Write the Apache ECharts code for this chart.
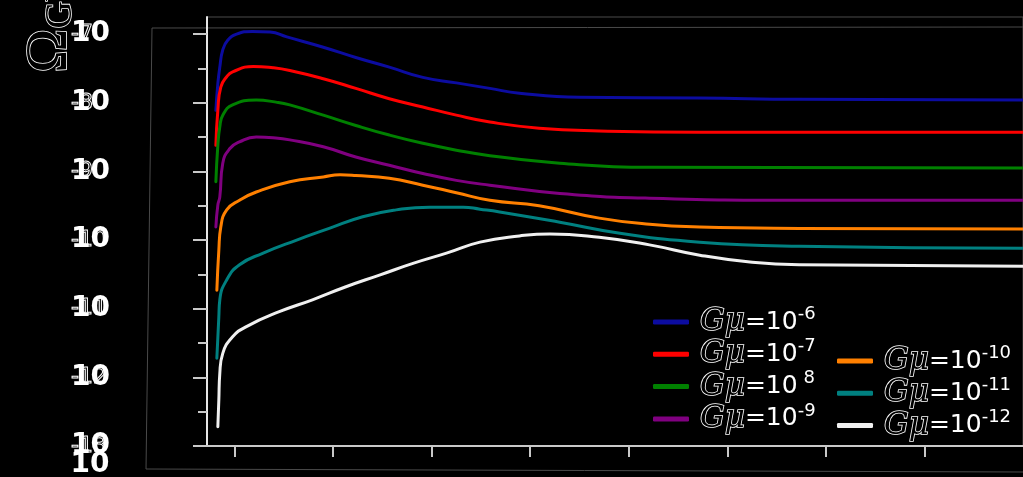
<!DOCTYPE html>
<html>
<head>
<meta charset="utf-8">
<style>
  html, body { margin: 0; padding: 0; background: #000; }
  #chart { width: 1023px; height: 477px; }
</style>
<script src="https://cdn.jsdelivr.net/npm/echarts@6/dist/echarts.min.js"></script>
</head>
<body>
<div id="chart"></div>
<script>
// Gravitational-wave background from cosmic string loops.
// x: log10(f / Hz), y: log10(Omega_GW h^2)

const freqTicks = [-8, -7, -6, -5, -4, -3, -2, -1];
const omegaDecades = [-13, -12, -11, -10, -9, -8, -7];
const omegaHalfDecades = [-12.5, -11.5, -10.5, -9.5, -8.5, -7.5];

const seriesNames = [
  'Gμ=10^-6', 'Gμ=10^-7', 'Gμ=10^ 8', 'Gμ=10^-9',
  'Gμ=10^-10', 'Gμ=10^-11', 'Gμ=10^-12'
];
const seriesColors = ['#0c0ca0', '#ff0000', '#008000', '#800080', '#ff8000', '#008080', '#f0f0f0'];

const gmu6 = [
  [-8.19, -8.11], [-8.17, -7.72], [-8.15, -7.48], [-8.12, -7.23], [-8.07, -7.09],
  [-7.98, -7.00], [-7.82, -6.96], [-7.64, -6.97], [-7.47, -7.04], [-7.10, -7.19],
  [-6.77, -7.34], [-6.43, -7.48], [-6.09, -7.63], [-5.75, -7.71], [-5.41, -7.79],
  [-5.11, -7.86], [-4.50, -7.92], [-3.28, -7.93], [-2.27, -7.95], [0, -7.96]
];
const gmu7 = [
  [-8.19, -8.62], [-8.17, -8.11], [-8.14, -7.77], [-8.08, -7.62], [-8.02, -7.55],
  [-7.81, -7.47], [-7.61, -7.49], [-7.44, -7.53], [-7.10, -7.65], [-6.77, -7.79],
  [-6.43, -7.94], [-6.09, -8.06], [-5.75, -8.18], [-5.41, -8.28], [-4.91, -8.37],
  [-4.30, -8.41], [-3.28, -8.43], [0, -8.43]
];
const gmu8 = [
  [-8.19, -9.15], [-8.17, -8.62], [-8.15, -8.35], [-8.12, -8.18], [-8.02, -8.03],
  [-7.78, -7.96], [-7.58, -7.99], [-7.44, -8.03], [-7.10, -8.18], [-6.77, -8.33],
  [-6.43, -8.47], [-6.09, -8.59], [-5.75, -8.69], [-5.41, -8.77], [-4.70, -8.88],
  [-3.79, -8.94], [0, -8.95]
];
const gmu9 = [
  [-8.19, -9.81], [-8.17, -9.49], [-8.15, -9.37], [-8.12, -8.88], [-8.05, -8.67],
  [-7.95, -8.57], [-7.78, -8.50], [-7.61, -8.51], [-7.44, -8.54], [-7.10, -8.64],
  [-6.77, -8.79], [-6.43, -8.91], [-6.09, -9.03], [-5.75, -9.13], [-5.41, -9.20],
  [-4.70, -9.32], [-3.79, -9.39], [-2.27, -9.42], [0, -9.42]
];
const gmu10 = [
  [-8.18, -10.73], [-8.16, -10.15], [-8.14, -9.81], [-8.08, -9.56], [-7.95, -9.42],
  [-7.78, -9.30], [-7.44, -9.15], [-7.10, -9.08], [-6.93, -9.05], [-6.77, -9.06],
  [-6.43, -9.10], [-6.09, -9.20], [-5.75, -9.31], [-5.41, -9.42], [-4.91, -9.50],
  [-4.30, -9.68], [-3.79, -9.77], [-3.28, -9.81], [-2.27, -9.83], [0, -9.84]
];
const gmu11 = [
  [-8.18, -11.72], [-8.16, -11.12], [-8.15, -10.87], [-8.08, -10.58], [-7.95, -10.36],
  [-7.71, -10.19], [-7.37, -10.00], [-7.04, -9.83], [-6.70, -9.66], [-6.36, -9.56],
  [-6.02, -9.52], [-5.68, -9.52], [-5.51, -9.55], [-5.31, -9.59], [-4.70, -9.74],
  [-4.09, -9.90], [-3.28, -10.03], [-2.27, -10.09], [0, -10.12]
];
const gmu12 = [
  [-8.17, -12.72], [-8.16, -12.33], [-8.15, -11.94], [-8.12, -11.65], [-8.02, -11.41],
  [-7.88, -11.26], [-7.54, -11.04], [-7.21, -10.87], [-6.87, -10.68], [-6.53, -10.51],
  [-6.19, -10.34], [-5.85, -10.19], [-5.51, -10.03], [-5.11, -9.94], [-4.80, -9.91],
  [-4.30, -9.96], [-3.79, -10.07], [-3.28, -10.22], [-2.77, -10.32], [-2.27, -10.36],
  [0, -10.38]
];
const seriesData = [gmu6, gmu7, gmu8, gmu9, gmu10, gmu11, gmu12];

const chart = echarts.init(document.getElementById('chart'), null, { renderer: 'canvas' });

const legendRich = {
  g: {
    fontFamily: 'DejaVu Serif', fontStyle: 'italic', fontSize: 31, lineHeight: 34,
    color: '#000', textBorderColor: '#fff', textBorderWidth: 1.6
  },
  t: { fontFamily: 'DejaVu Sans', fontSize: 25, lineHeight: 34, color: '#fff' },
  s: { fontFamily: 'DejaVu Sans', fontSize: 18, lineHeight: 26, color: '#fff', verticalAlign: 'top' }
};
const legendFormatter = function (name) {
  const parts = name.split('^');
  return '{g|' + parts[0].replace('=10', '') + '}{t|=10}{s|' + parts[1] + '}';
};
const legendBase = {
  orient: 'vertical',
  icon: 'roundRect',
  itemWidth: 36,
  itemHeight: 5,
  itemGap: -1,
  formatter: legendFormatter,
  textStyle: { rich: legendRich, padding: [0, 0, 0, 6] },
  inactiveColor: '#444'
};

const axisGrey = '#c8c8c8';

const option = {
  backgroundColor: '#000',
  animation: false,
  grid: {
    left: 207, right: 0, top: 17, bottom: 31,
    show: true, borderColor: '#4a4a4a', borderWidth: 1, backgroundColor: 'transparent'
  },
  xAxis: {
    type: 'value', min: -8.28, max: 0,
    axisLine: { onZero: false, lineStyle: { color: axisGrey, width: 2 } },
    axisTick: { customValues: freqTicks, length: 11, lineStyle: { color: axisGrey, width: 2 } },
    axisLabel: { show: false },
    splitLine: { show: false }
  },
  yAxis: [
    {
      // decades: axis line, long ticks and the "10" labels with their exponents laid over them
      type: 'value', min: -13, max: -6.75, position: 'left', offset: 0,
      axisLine: { show: true, onZero: false, lineStyle: { color: '#e6e6e6', width: 2 } },
      axisTick: { customValues: omegaDecades, length: 14, lineStyle: { color: axisGrey, width: 2 } },
      axisLabel: {
        customValues: omegaDecades, margin: 97,
        formatter: function (v) { return '{e|' + v + '}{b|10}'; },
        rich: {
          e: {
            width: 0, align: 'left', fontFamily: 'DejaVu Sans', fontSize: 22,
            color: 'rgba(0,0,0,0)', textBorderColor: '#fff', textBorderWidth: 1
          },
          b: { color: '#fff', fontFamily: 'DejaVu Sans', fontWeight: 'bold', fontSize: 28 }
        }
      },
      splitLine: { show: false }
    },
    {
      // half decades: short ticks only
      type: 'value', min: -13, max: -6.75, position: 'left', offset: 0,
      axisLine: { show: false, onZero: false },
      axisTick: { show: true, customValues: omegaHalfDecades, length: 9, lineStyle: { color: axisGrey, width: 2 } },
      axisLabel: { show: false },
      splitLine: { show: false }
    }
  ],
  legend: [
    Object.assign({}, legendBase, { left: 648, top: 300, data: seriesNames.slice(0, 4) }),
    Object.assign({}, legendBase, { left: 832, top: 339, data: seriesNames.slice(4) })
  ],
  series: seriesData.map(function (d, i) {
    return {
      name: seriesNames[i],
      type: 'line',
      data: d,
      showSymbol: false,
      smooth: 0.5,
      color: seriesColors[i],
      lineStyle: { width: 3, color: seriesColors[i], cap: 'round', join: 'round' }
    };
  }),
  graphic: [
    {
      type: 'polyline', silent: true,
      shape: { points: [[1023, 27], [152, 28], [146, 469], [1023, 472]] },
      style: { stroke: '#4a4a4a', lineWidth: 1, fill: null }
    },
    {
      type: 'text', x: 50, y: 73, rotation: Math.PI / 2, silent: true,
      style: {
        text: '{o|Ω}{b|GW}{c| h}{d|2}',
        align: 'left', verticalAlign: 'middle',
        rich: {
          o: { fontFamily: 'Liberation Serif', fontSize: 60, fill: '#000', stroke: '#fff', lineWidth: 1.6 },
          b: { fontFamily: 'Liberation Serif', fontSize: 38, fill: '#000', stroke: '#fff', lineWidth: 1.6, verticalAlign: 'bottom' },
          c: { fontFamily: 'Liberation Serif', fontSize: 54, fill: '#000', stroke: '#fff', lineWidth: 1.6 },
          d: { fontFamily: 'Liberation Serif', fontSize: 34, fill: '#000', stroke: '#fff', lineWidth: 1.6, verticalAlign: 'top' }
        }
      }
    },
    {
      type: 'text', x: 90, y: 465, silent: true,
      style: {
        text: '10', align: 'center', verticalAlign: 'middle',
        fill: '#fff', fontFamily: 'DejaVu Sans', fontWeight: 'bold', fontSize: 28
      }
    }
  ]
};

chart.setOption(option);
</script>
</body>
</html>
